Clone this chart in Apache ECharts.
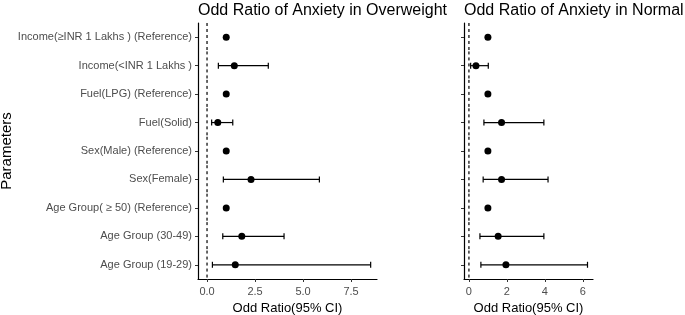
<!DOCTYPE html>
<html>
<head>
<meta charset="utf-8">
<script src="https://cdn.jsdelivr.net/npm/echarts@6/dist/echarts.min.js"></script>
<style>
  html, body { margin: 0; padding: 0; background: #fff; }
  #chart { width: 685px; height: 315px; }
</style>
</head>
<body>
<div id="chart"></div>
<script>
// categories, top to bottom
var params = [
  'Income(\u2265INR 1 Lakhs ) (Reference)',
  'Income(<INR 1 Lakhs )',
  'Fuel(LPG) (Reference)',
  'Fuel(Solid)',
  'Sex(Male) (Reference)',
  'Sex(Female)',
  'Age Group( \u2265 50) (Reference)',
  'Age Group (30-49)',
  'Age Group (19-29)'
];

// overweight panel
var owOR    = [1, 1.42, 1, 0.56, 1, 2.29, 1, 1.81, 1.47];
var owLower = [null, 0.59, null, 0.24, null, 0.85, null, 0.82, 0.28];
var owUpper = [null, 3.19, null, 1.34, null, 5.85, null, 4.01, 8.52];
var owTicks = [0, 2.5, 5, 7.5];

// normal panel
var nmOR    = [1, 0.37, 1, 1.72, 1, 1.72, 1, 1.54, 1.95];
var nmLower = [null, 0.09, null, 0.79, null, 0.75, null, 0.58, 0.63];
var nmUpper = [null, 1.02, null, 3.95, null, 4.17, null, 3.95, 6.25];
var nmTicks = [0, 2, 4, 6];

// reference line position
var refValue = 0;

var FONT = 'Liberation Sans, Arial, sans-serif';

function ciData(lo, hi) {
  var out = [];
  for (var i = 0; i < params.length; i++) {
    if (lo[i] != null) out.push([lo[i], hi[i], params[i]]);
  }
  return out;
}

function dotData(or) {
  var out = [];
  for (var i = 0; i < params.length; i++) out.push([or[i], params[i]]);
  return out;
}

// one row per category so the dashed line covers every band
function refData() {
  var out = [];
  for (var i = 0; i < params.length; i++) out.push([refValue, refValue, params[i]]);
  return out;
}

// horizontal error bar with end caps
function renderCI(p, api) {
  var a = api.coord([api.value(0), api.value(2)]);
  var b = api.coord([api.value(1), api.value(2)]);
  var cap = 3;
  var style = { stroke: '#000', lineWidth: 1.2 };
  return {
    type: 'group',
    children: [
      { type: 'line', shape: { x1: a[0], y1: a[1], x2: b[0], y2: b[1] }, style: style },
      { type: 'line', shape: { x1: a[0], y1: a[1] - cap, x2: a[0], y2: a[1] + cap }, style: style },
      { type: 'line', shape: { x1: b[0], y1: b[1] - cap, x2: b[0], y2: b[1] + cap }, style: style }
    ]
  };
}

// dashed segment across one category band
function renderRef(p, api) {
  var c = api.coord([api.value(0), api.value(2)]);
  var half = api.size([0, 1])[1] / 2;
  return {
    type: 'line',
    shape: { x1: c[0], y1: c[1] - half, x2: c[0], y2: c[1] + half },
    style: { stroke: '#000', lineWidth: 1.2, lineDash: [3, 3] }
  };
}

function xAxisFor(idx, min, max, ticks, digits) {
  return {
    gridIndex: idx,
    type: 'value',
    min: min,
    max: max,
    name: 'Odd Ratio(95% CI)',
    nameLocation: 'middle',
    nameGap: 16,
    nameTextStyle: { fontFamily: FONT, fontSize: 13, color: '#000' },
    splitLine: { show: false },
    axisLine: { show: true, onZero: false, lineStyle: { color: '#000', width: 1.2 } },
    axisTick: { show: true, length: 3, customValues: ticks, lineStyle: { color: '#333' } },
    axisLabel: {
      customValues: ticks,
      fontFamily: FONT, fontSize: 11, color: '#4d4d4d', margin: 7,
      formatter: function (v) { return v.toFixed(digits); }
    }
  };
}

function yAxisFor(idx, showLabels) {
  return {
    gridIndex: idx,
    type: 'category',
    data: params,
    inverse: true,
    name: showLabels ? 'Parameters' : '',
    nameLocation: 'middle',
    nameGap: 182,
    nameTextStyle: { fontFamily: FONT, fontSize: 15, color: '#000' },
    // keep the axis at the panel's left edge, not at x = 0
    axisLine: { show: true, onZero: false, lineStyle: { color: '#000', width: 1.2 } },
    axisTick: { show: true, length: 3, alignWithLabel: true, lineStyle: { color: '#333' } },
    axisLabel: {
      show: showLabels,
      fontFamily: FONT, fontSize: 11, color: '#4d4d4d', margin: 6
    },
    splitLine: { show: false }
  };
}

var chart = echarts.init(document.getElementById('chart'));

var titleStyle = { fontFamily: FONT, fontSize: 16, fontWeight: 'normal', color: '#000' };

var option = {
  backgroundColor: '#fff',
  animation: false,
  title: [
    { text: 'Odd Ratio of Anxiety in Overweight', left: 198, top: 3, padding: 0, textStyle: titleStyle },
    { text: 'Odd Ratio of Anxiety in Normal', left: 464, top: 3, padding: 0, textStyle: titleStyle }
  ],
  grid: [
    { left: 198, width: 179, top: 23, bottom: 36, containLabel: false, outerBoundsMode: 'none' },
    { left: 464, width: 129, top: 23, bottom: 36, containLabel: false, outerBoundsMode: 'none' }
  ],
  xAxis: [
    xAxisFor(0, -0.47, 8.85, owTicks, 1),
    xAxisFor(1, -0.26, 6.54, nmTicks, 0)
  ],
  yAxis: [
    yAxisFor(0, true),
    yAxisFor(1, false)
  ],
  series: [
    { type: 'custom', xAxisIndex: 0, yAxisIndex: 0, renderItem: renderRef,
      encode: { x: [0, 1], y: 2 }, data: refData(), z: 1 },
    { type: 'custom', xAxisIndex: 0, yAxisIndex: 0, renderItem: renderCI,
      encode: { x: [0, 1], y: 2 }, data: ciData(owLower, owUpper), z: 2 },
    { type: 'scatter', xAxisIndex: 0, yAxisIndex: 0, symbolSize: 7,
      itemStyle: { color: '#000', opacity: 1 }, data: dotData(owOR), z: 3 },
    { type: 'custom', xAxisIndex: 1, yAxisIndex: 1, renderItem: renderRef,
      encode: { x: [0, 1], y: 2 }, data: refData(), z: 1 },
    { type: 'custom', xAxisIndex: 1, yAxisIndex: 1, renderItem: renderCI,
      encode: { x: [0, 1], y: 2 }, data: ciData(nmLower, nmUpper), z: 2 },
    { type: 'scatter', xAxisIndex: 1, yAxisIndex: 1, symbolSize: 7,
      itemStyle: { color: '#000', opacity: 1 }, data: dotData(nmOR), z: 3 }
  ]
};

chart.setOption(option);
</script>
</body>
</html>
